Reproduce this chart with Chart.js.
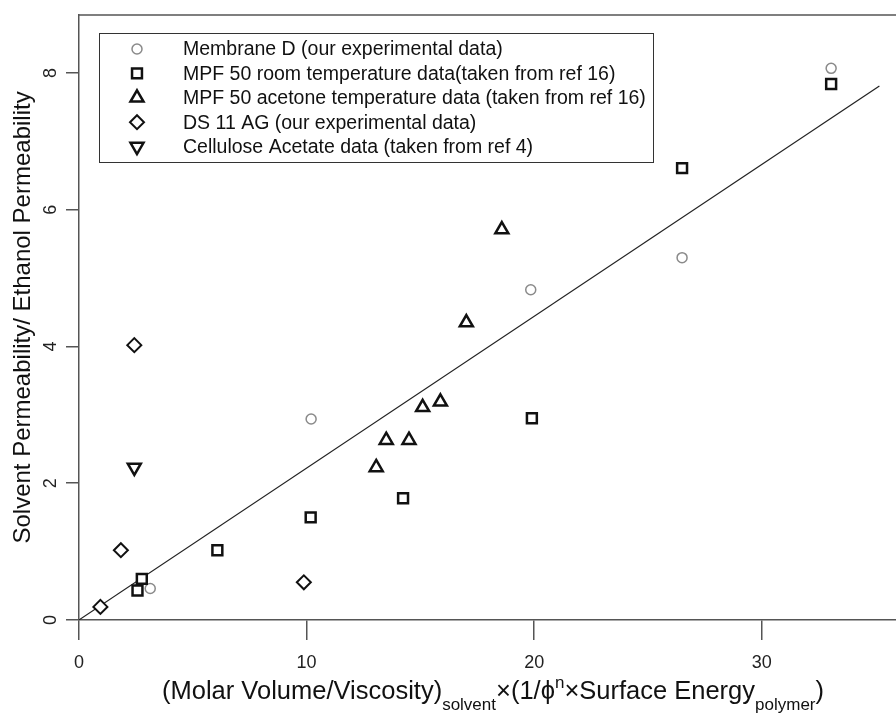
<!DOCTYPE html>
<html>
<head>
<meta charset="utf-8">
<script src="https://cdn.jsdelivr.net/npm/chart.js@4.4.1/dist/chart.umd.min.js"></script>
<style>
  html, body { margin: 0; padding: 0; background: #fff; }
</style>
</head>
<body>
<canvas id="chart" width="896" height="715"></canvas>
<script>
// Values
const membraneX = [3.13, 10.2, 19.85, 26.5, 33.05];
const membraneY = [0.46, 2.94, 4.83, 5.30, 8.07];

const mpfRoomX = [2.57, 2.76, 6.08, 10.18, 14.24, 19.9, 26.5, 33.05];
const mpfRoomY = [0.43, 0.60, 1.02, 1.50, 1.78, 2.95, 6.61, 7.84];

const mpfAcetoneX = [13.06, 13.5, 14.5, 15.1, 15.88, 17.02, 18.58];
const mpfAcetoneY = [2.23, 2.63, 2.63, 3.11, 3.19, 4.35, 5.71];

const ds11X = [0.94, 1.84, 2.43, 9.88];
const ds11Y = [0.19, 1.02, 4.02, 0.55];

const celluloseX = [2.43];
const celluloseY = [2.23];

// regression line through the origin
const fitX = [0, 35.17];
const fitY = [0, 7.81];

const xTicks = [0, 10, 20, 30];
const yTicks = [0, 2, 4, 6, 8];

const seriesLabels = [
  "Membrane D (our experimental data)",
  "MPF 50 room temperature data(taken from ref 16)",
  "MPF 50 acetone temperature data (taken from ref 16)",
  "DS 11 AG (our experimental data)",
  "Cellulose Acetate data (taken from ref 4)"
];

const FONT = '"Liberation Sans", Arial, Helvetica, sans-serif';

const pts = (xs, ys) => xs.map((x, i) => ({ x: x, y: ys[i] }));

const markerStyles = [
  { pointStyle: "circle", radius: 5, borderWidth: 1.5, borderColor: "#8a8a8a", rotation: 0 },
  { pointStyle: "rect", radius: 7, borderWidth: 2.5, borderColor: "#111", rotation: 0 },
  { pointStyle: "triangle", radius: 7.5, borderWidth: 2.5, borderColor: "#111", rotation: 0 },
  { pointStyle: "rectRot", radius: 7, borderWidth: 2, borderColor: "#111", rotation: 0 },
  { pointStyle: "triangle", radius: 7.5, borderWidth: 2.5, borderColor: "#111", rotation: 180 }
];

const seriesData = [
  pts(membraneX, membraneY),
  pts(mpfRoomX, mpfRoomY),
  pts(mpfAcetoneX, mpfAcetoneY),
  pts(ds11X, ds11Y),
  pts(celluloseX, celluloseY)
];
const drawOrder = [5, 1, 3, 4, 2];

const datasets = seriesData.map((d, i) => ({
  type: "scatter",
  label: seriesLabels[i],
  data: d,
  order: drawOrder[i],
  pointStyle: markerStyles[i].pointStyle,
  pointRadius: markerStyles[i].radius,
  pointBorderWidth: markerStyles[i].borderWidth,
  pointBorderColor: markerStyles[i].borderColor,
  pointBackgroundColor: "#fff",
  pointRotation: markerStyles[i].rotation,
  showLine: false
}));

datasets.push({
  type: "line",
  label: "fit",
  data: pts(fitX, fitY),
  order: 10,
  borderColor: "#222",
  borderWidth: 1.2,
  pointRadius: 0,
  fill: false
});

function drawMarker(ctx, style, x, y) {
  ctx.save();
  ctx.strokeStyle = style.borderColor;
  ctx.fillStyle = "#fff";
  ctx.lineWidth = style.borderWidth;
  Chart.helpers.drawPoint(ctx, {
    pointStyle: style.pointStyle,
    radius: style.radius,
    borderWidth: style.borderWidth,
    rotation: style.rotation
  }, x, y);
  ctx.restore();
}

const decorPlugin = {
  id: "decor",
  afterDraw(chart) {
    const ctx = chart.ctx;
    const area = chart.chartArea;
    const yScale = chart.scales.y;
    ctx.save();

    // frame top line
    ctx.strokeStyle = "#555";
    ctx.lineWidth = 1.5;
    ctx.beginPath();
    ctx.moveTo(area.left, area.top);
    ctx.lineTo(area.right, area.top);
    ctx.stroke();

    // y tick labels, written along the axis
    ctx.fillStyle = "#222";
    ctx.font = "18px " + FONT;
    ctx.textAlign = "center";
    ctx.textBaseline = "alphabetic";
    yTicks.forEach(v => {
      const py = yScale.getPixelForValue(v);
      ctx.save();
      ctx.translate(area.left - 23, py);
      ctx.rotate(-Math.PI / 2);
      ctx.fillText(String(v), 0, 0);
      ctx.restore();
    });

    // y title
    ctx.save();
    ctx.font = "24px " + FONT;
    ctx.fillStyle = "#111";
    ctx.translate(30, (area.top + area.bottom) / 2);
    ctx.rotate(-Math.PI / 2);
    ctx.fillText("Solvent Permeability/ Ethanol Permeability", 0, 0);
    ctx.restore();

    // x title with sub/superscripts
    const parts = [
      { t: "(Molar Volume/Viscosity)", s: 25.5, dy: 0 },
      { t: "solvent", s: 17, dy: 11 },
      { t: "\u00d7(1/\u03d5", s: 25.5, dy: 0 },
      { t: "n", s: 17, dy: -11 },
      { t: "\u00d7Surface Energy", s: 25.5, dy: 0 },
      { t: "polymer", s: 17, dy: 11 },
      { t: ")", s: 25.5, dy: 0 }
    ];
    let total = 0;
    parts.forEach(p => { ctx.font = p.s + "px " + FONT; p.w = ctx.measureText(p.t).width; total += p.w; });
    let cx = 493 - total / 2;
    const base = 699;
    ctx.textAlign = "left";
    ctx.fillStyle = "#111";
    parts.forEach(p => {
      ctx.font = p.s + "px " + FONT;
      ctx.fillText(p.t, cx, base + p.dy);
      cx += p.w;
    });

    // legend box
    const box = { left: 99, top: 33, right: 653, bottom: 162 };
    ctx.strokeStyle = "#333";
    ctx.lineWidth = 1;
    ctx.strokeRect(box.left + 0.5, box.top + 0.5, box.right - box.left, box.bottom - box.top);
    ctx.font = "19.5px " + FONT;
    ctx.textBaseline = "middle";
    ctx.fillStyle = "#111";
    seriesLabels.forEach((lab, i) => {
      const ry = 49 + i * 24.4;
      drawMarker(ctx, markerStyles[i], 137, ry);
      ctx.fillStyle = "#111";
      ctx.fillText(lab, 183, ry + 1);
    });

    ctx.restore();
  }
};

new Chart(document.getElementById("chart"), {
  data: { datasets: datasets },
  options: {
    responsive: false,
    animation: false,
    events: [],
    layout: { autoPadding: false, padding: { left: 66, top: 15, right: 0, bottom: 29.5 } },
    plugins: { legend: { display: false }, tooltip: { enabled: false } },
    scales: {
      x: {
        type: "linear",
        min: 0,
        max: 35.9,
        afterBuildTicks: scale => { scale.ticks = xTicks.map(v => ({ value: v })); },
        ticks: { font: { size: 18, family: FONT }, color: "#222", padding: 12, maxRotation: 0 },
        grid: { drawOnChartArea: false, drawTicks: true, tickLength: 20, color: "#555", lineWidth: 1.5 },
        border: { display: true, color: "#555", width: 1.5 }
      },
      y: {
        type: "linear",
        min: 0,
        max: 8.85,
        afterBuildTicks: scale => { scale.ticks = yTicks.map(v => ({ value: v })); },
        ticks: { display: false },
        grid: { drawOnChartArea: false, drawTicks: true, tickLength: 13, color: "#555", lineWidth: 1.5 },
        border: { display: true, color: "#555", width: 1.5 }
      }
    }
  },
  plugins: [decorPlugin]
});
</script>
</body>
</html>
